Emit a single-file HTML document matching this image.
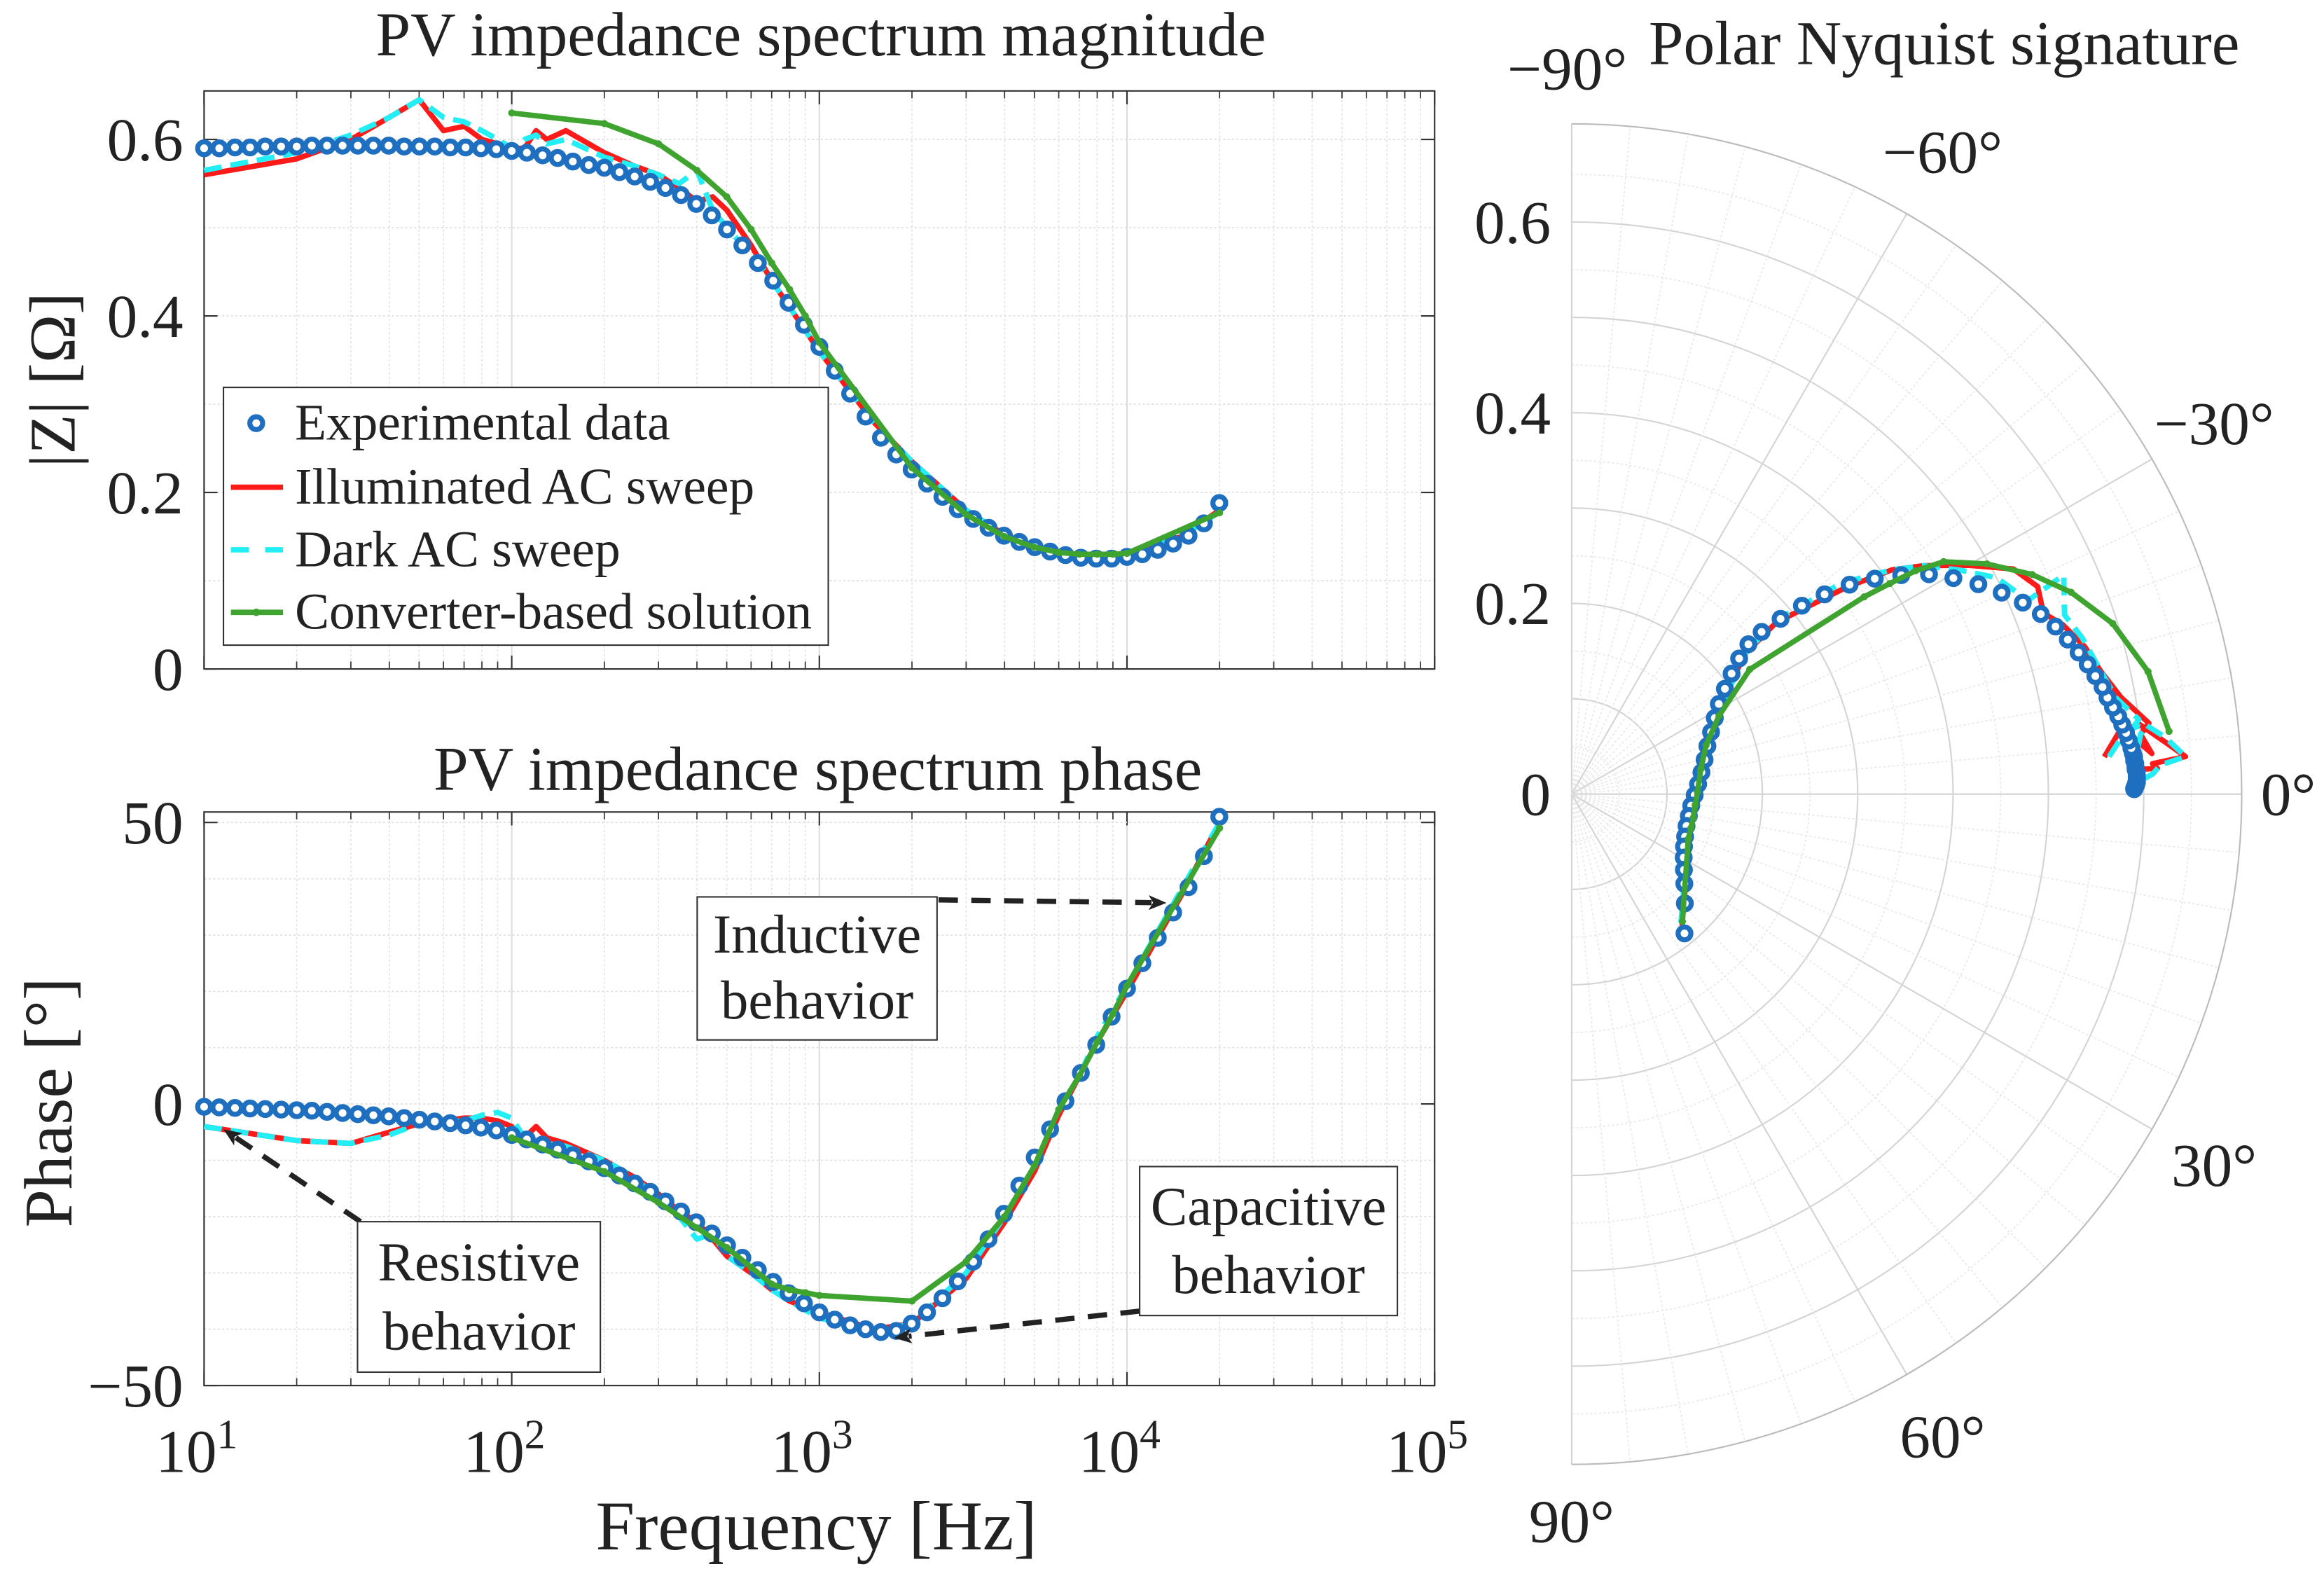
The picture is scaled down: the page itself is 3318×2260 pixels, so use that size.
<!DOCTYPE html>
<html><head><meta charset="utf-8">
<style>
html,body{margin:0;padding:0;background:#fff;}
svg{display:block;}
text{font-family:"Liberation Serif",serif;fill:#222;}
</style></head>
<body>
<svg id="fig" width="3318" height="2260" viewBox="0 0 1560 1062.5" xmlns="http://www.w3.org/2000/svg">
<rect x="0" y="0" width="1560" height="1062.5" fill="#fff"/>
<g id="gTop"></g>
<g id="gBot"></g>
<g id="gPol"></g>
</svg>
<script>
// ---------- data ----------
const expFreq = [10,11.2,12.6,14.1,15.8,17.8,20,22.4,25.1,28.2,31.6,35.5,39.8,44.7,50.1,56.2,63.1,70.8,79.4,89.1,
 100,112,126,141,158,178,200,224,251,282,316,355,398,447,501,562,631,708,794,891,
 1000,1122,1259,1413,1585,1778,1995,2239,2512,2818,3162,3548,3981,4467,5012,5623,6310,7079,7943,8913,
 10000,11220,12589,14125,15849,17783,19953];
const expMag = [.590,.590,.591,.591,.592,.592,.592,.593,.593,.593,.593,.593,.593,.592,.592,.592,.591,.591,.590,.589,
 .587,.585,.582,.579,.575,.571,.568,.563,.558,.552,.545,.537,.527,.514,.498,.480,.460,.440,.415,.390,
 .365,.338,.312,.286,.262,.243,.226,.210,.195,.181,.170,.160,.151,.144,.138,.133,.129,.126,.125,.125,
 .127,.130,.135,.142,.151,.165,.188];
const expPhase = [-0.5,-0.6,-0.7,-0.8,-0.9,-1.0,-1.1,-1.2,-1.4,-1.6,-1.8,-2.0,-2.2,-2.5,-2.8,-3.1,-3.4,-3.8,-4.2,-4.7,
 -5.5,-6.3,-7.2,-8.1,-9.1,-10.2,-11.4,-12.7,-14.1,-15.6,-17.3,-19.1,-21.0,-23.0,-25.1,-27.3,-29.5,-31.6,-33.6,-35.4,
 -37.0,-38.3,-39.3,-40.0,-40.5,-40.3,-39.0,-37.0,-34.5,-31.5,-28.0,-24.0,-19.5,-14.5,-9.5,-4.5,0.5,5.5,10.5,15.5,
 20.5,25,29.5,34,38.5,44,51];
const sweepFreq = [10,20,30,40,50,60,70,80,90,100,110,120,130,150,200,250,300,350,400,450,500,600,700,800,1000,1500,2000,3000,4000,5000,6000,7000,8000,10000,15000,20000];
const illumMag = [.56,.578,.60,.625,.645,.61,.615,.60,.595,.59,.59,.61,.60,.61,.585,.57,.56,.545,.53,.535,.52,.48,.44,.41,.36,.28,.235,.18,.152,.138,.13,.127,.126,.128,.15,.18];
const illumPhase = [-4,-6.5,-7,-5,-3.5,-3,-2.5,-2.5,-3,-4,-6,-4,-6,-7,-10,-13,-16,-19,-21,-24,-27,-30,-33,-35,-37,-40,-39,-31,-21,-12,-2,5,11,20,37,50];
const darkMag = [.565,.585,.605,.625,.645,.625,.62,.61,.60,.59,.60,.605,.595,.60,.58,.57,.56,.55,.565,.52,.50,.47,.44,.41,.36,.28,.235,.18,.152,.138,.13,.127,.126,.128,.15,.178];
const darkPhase = [-4,-6.5,-7,-5.5,-3.5,-3,-3,-2,-1.5,-2.5,-6,-6.5,-7,-7.5,-10,-13,-17,-20,-24,-23,-27,-30,-33,-35,-38,-40.5,-39,-30,-20,-11,-1,5,12,21,38,50];
const convFreq = [100,200,300,400,500,600,700,800,900,1000,2000,3000,4000,5000,6000,7000,8000,9000,10000,20000];
const convMag = [.630,.618,.595,.565,.535,.498,.46,.43,.40,.37,.228,.175,.15,.138,.132,.13,.13,.13,.131,.177];
const convPhase = [-6,-12,-17.5,-22,-25.5,-29,-32,-33,-33.5,-34,-35,-28,-20,-11,-1,5,11,16,21,49];
const magTicks = [0,0.2,0.4,0.6];
const magTickLabels = ["0","0.2","0.4","0.6"];
const phaseTicks = [-50,0,50];
const phaseTickLabels = ["\u221250","0","50"];
const decadeExps = [1,2,3,4,5];
const polarRTicks = [0.2,0.4,0.6];
const polarRTickLabels = ["0.2","0.4","0.6"];
const polarAngTicks = [-90,-60,-30,0,30,60,90];

// ---------- helpers ----------
const NS="http://www.w3.org/2000/svg";
function mk(parent,tag,attrs,txt){const e=document.createElementNS(NS,tag);for(const k in attrs)e.setAttribute(k,attrs[k]);if(txt!==undefined)e.textContent=txt;parent.appendChild(e);return e;}
const C={blue:"#1f6fc0",red:"#ff1a1a",cyan:"#22eef5",green:"#3fa32f"};
const FT=41;

const XL=137,XR=963;
function xs(f){return XL+(XR-XL)*(Math.log10(f)-1)/4;}
const T={top:61,bot:449,min:0,max:0.655};
function ym(v){return T.bot-(v-T.min)/(T.max-T.min)*(T.bot-T.top);}
const B={top:545,bot:930};
function yp(v){return 741-v*(930-741)/50;}

function gridAndBox(g,top,bot,yGrid,yfn,name){
  for(let d=1;d<5;d++){for(let m=2;m<10;m++){const x=xs(m*Math.pow(10,d));
    const l=mk(g,"line",{x1:x,x2:x,y1:top,y2:bot,stroke:"#e4e4e4","stroke-width":0.8,"stroke-dasharray":"1.5 1.5"});
    
    
    mk(g,"line",{x1:x,x2:x,y1:bot,y2:bot-5,stroke:"#333","stroke-width":0.8});
    mk(g,"line",{x1:x,x2:x,y1:top,y2:top+5,stroke:"#333","stroke-width":0.8});}}
  decadeExps.forEach(e=>{const x=xs(Math.pow(10,e));
    const l=mk(g,"line",{x1:x,x2:x,y1:top,y2:bot,stroke:"#dcdcdc","stroke-width":1});
    
    
    mk(g,"line",{x1:x,x2:x,y1:bot,y2:bot-9,stroke:"#333","stroke-width":1});
    mk(g,"line",{x1:x,x2:x,y1:top,y2:top+9,stroke:"#333","stroke-width":1});});
  yGrid.forEach(v=>{const y=yfn(v);
    const l=mk(g,"line",{x1:XL,x2:XR,y1:y,y2:y,stroke:"#e2e2e2","stroke-width":0.9,"stroke-dasharray":"1.5 1.5"});
    
    });
  const r=mk(g,"rect",{x:XL,y:top,width:XR-XL,height:bot-top,fill:"none",stroke:"#333","stroke-width":1});
  
  
}
function poly(g,pts,col,w,dash,name){const a={points:pts.map(p=>p[0].toFixed(2)+","+p[1].toFixed(2)).join(" "),fill:"none",stroke:col,"stroke-width":w,"stroke-linejoin":"round"};if(dash)a["stroke-dasharray"]=dash;const p=mk(g,"polyline",a);
  
  return p;}
function dots(g,pts,name){pts.forEach(p=>{const c=mk(g,"circle",{cx:p[0],cy:p[1],r:4.3,fill:"#fff",stroke:C.blue,"stroke-width":3.4});
  
  });}
function gmarks(g,pts,name){pts.forEach(p=>{const c=mk(g,"circle",{cx:p[0],cy:p[1],r:2.4,fill:C.green});
  
  });}

// ---------- magnitude plot ----------
const gT=document.getElementById("gTop");
const magGrid=[];for(let v=0.1;v<0.65;v+=0.1)magGrid.push(+v.toFixed(2));
gridAndBox(gT,T.top,T.bot,magGrid,ym,"magnitude-axes-box");
magTicks.forEach((v,i)=>{const y=ym(v);
  mk(gT,"line",{x1:XL,x2:XL+9,y1:y,y2:y,stroke:"#333","stroke-width":1});
  mk(gT,"line",{x1:XR,x2:XR-9,y1:y,y2:y,stroke:"#333","stroke-width":1});
  const t=mk(gT,"text",{x:123,y:y+14,"text-anchor":"end","font-size":FT},magTickLabels[i]);
  
  });
poly(gT,sweepFreq.map((f,i)=>[xs(f),ym(illumMag[i])]),C.red,3.6,null,"illuminated-magnitude-line");
poly(gT,sweepFreq.map((f,i)=>[xs(f),ym(darkMag[i])]),C.cyan,3.6,"12 6","dark-magnitude-line");
dots(gT,expFreq.map((f,i)=>[xs(f),ym(expMag[i])]),"experimental-magnitude-point");
poly(gT,convFreq.map((f,i)=>[xs(f),ym(convMag[i])]),C.green,3.6,null,"converter-magnitude-line");
gmarks(gT,convFreq.map((f,i)=>[xs(f),ym(convMag[i])]),"converter-magnitude-marker");
let t;
t=mk(gT,"text",{x:551,y:37,"text-anchor":"middle","font-size":42},"PV impedance spectrum magnitude");


t=mk(gT,"text",{x:0,y:0,"text-anchor":"middle","font-size":44,transform:"translate(50,255) rotate(-90)"},"|Z| [\u03A9]");


const lg=mk(gT,"g",{});


mk(lg,"rect",{x:150,y:260,width:406,height:173,fill:"#fff",stroke:"#333","stroke-width":1});
const legItems=[["Experimental data",284],["Illuminated AC sweep",327],["Dark AC sweep",369],["Converter-based solution",411]];
legItems.forEach((it,i)=>{const y=it[1];
  if(i===0)mk(lg,"circle",{cx:172,cy:y,r:4.3,fill:"#fff",stroke:C.blue,"stroke-width":3.4});
  if(i===1)mk(lg,"line",{x1:155,x2:190,y1:y,y2:y,stroke:C.red,"stroke-width":3.6});
  if(i===2)mk(lg,"line",{x1:155,x2:190,y1:y,y2:y,stroke:C.cyan,"stroke-width":3.6,"stroke-dasharray":"12 11"});
  if(i===3){mk(lg,"line",{x1:155,x2:190,y1:y,y2:y,stroke:C.green,"stroke-width":3.6});mk(lg,"circle",{cx:172,cy:y,r:2.5,fill:C.green});}
  const tx=mk(lg,"text",{x:198,y:y+11,"font-size":34.5},it[0]);
  
  });

// ---------- phase plot ----------
const gB=document.getElementById("gBot");
const phGrid=[];for(let v=-40;v<=50;v+=10)phGrid.push(v);
gridAndBox(gB,B.top,B.bot,phGrid,yp,"phase-axes-box");
phaseTicks.forEach((v,i)=>{const y=yp(v);
  mk(gB,"line",{x1:XL,x2:XL+9,y1:y,y2:y,stroke:"#333","stroke-width":1});
  mk(gB,"line",{x1:XR,x2:XR-9,y1:y,y2:y,stroke:"#333","stroke-width":1});
  const tt=mk(gB,"text",{x:123,y:y+14,"text-anchor":"end","font-size":FT},phaseTickLabels[i]);
  
  });
decadeExps.forEach(e=>{const x=xs(Math.pow(10,e));
  const tt=mk(gB,"text",{x:x-5,y:988,"text-anchor":"middle","font-size":FT},"10");
  mk(tt,"tspan",{dy:-16,"font-size":28},String(e));
  
  });
poly(gB,sweepFreq.map((f,i)=>[xs(f),yp(illumPhase[i])]),C.red,3.6,null,"illuminated-phase-line");
poly(gB,sweepFreq.map((f,i)=>[xs(f),yp(darkPhase[i])]),C.cyan,3.6,"12 6","dark-phase-line");
dots(gB,expFreq.map((f,i)=>[xs(f),yp(expPhase[i])]),"experimental-phase-point");
poly(gB,convFreq.map((f,i)=>[xs(f),yp(convPhase[i])]),C.green,3.6,null,"converter-phase-line");
gmarks(gB,convFreq.map((f,i)=>[xs(f),yp(convPhase[i])]),"converter-phase-marker");
t=mk(gB,"text",{x:549,y:530,"text-anchor":"middle","font-size":42},"PV impedance spectrum phase");


t=mk(gB,"text",{x:0,y:0,"text-anchor":"middle","font-size":46,transform:"translate(48,740) rotate(-90)"},"Phase [\u00B0]");


t=mk(gB,"text",{x:548,y:1040,"text-anchor":"middle","font-size":47},"Frequency [Hz]");


function arrow(g,x1,y1,x2,y2,name){const a=Math.atan2(y2-y1,x2-x1);
  const l=mk(g,"line",{x1:x1,y1:y1,x2:x2-10*Math.cos(a),y2:y2-10*Math.sin(a),stroke:"#222","stroke-width":3.5,"stroke-dasharray":"13 9"});
  
  
  const hx=x2-12*Math.cos(a),hy=y2-12*Math.sin(a),px=-Math.sin(a)*5,py=Math.cos(a)*5;
  mk(g,"polygon",{points:`${x2},${y2} ${hx+px},${hy+py} ${hx+3*Math.cos(a)},${hy+3*Math.sin(a)} ${hx-px},${hy-py}`,fill:"#222"});}
function abox(g,x,y,w,h,l1,l2,name){const gg=mk(g,"g",{});
  
  
  mk(gg,"rect",{x:x,y:y,width:w,height:h,fill:"#fff",stroke:"#333","stroke-width":1});
  mk(gg,"text",{x:x+w/2,y:y+h*0.39,"text-anchor":"middle","font-size":37},l1);
  mk(gg,"text",{x:x+w/2,y:y+h*0.85,"text-anchor":"middle","font-size":37},l2);}
arrow(gB,630,604,783,606,"inductive-arrow");
abox(gB,468,602,161,96,"Inductive","behavior","inductive-annotation");
arrow(gB,242,820,150,758,"resistive-arrow");
abox(gB,240,820,163,101,"Resistive","behavior","resistive-annotation");
arrow(gB,765,880,600,898,"capacitive-arrow");
abox(gB,765,783,173,100,"Capacitive","behavior","capacitive-annotation");

// ---------- polar ----------
const gP=document.getElementById("gPol");
const PC={x:1055,y:533,k:640,rmax:0.703};
function pxy(r,deg){const a=deg*Math.PI/180;return [PC.x+r*PC.k*Math.cos(a),PC.y+r*PC.k*Math.sin(a)];}
for(let r=0.05;r<PC.rmax-0.01;r+=0.05){const R=r*PC.k;const major=Math.abs(r*10-Math.round(r*10))<1e-6;
  const c=mk(gP,"path",{d:`M${PC.x},${PC.y-R} A${R},${R} 0 0 1 ${PC.x},${PC.y+R}`,fill:"none",stroke:major?"#d4d4d4":"#e8e8e8","stroke-width":major?1:0.8,"stroke-dasharray":major?"":"1.5 1.5"});
  
  }
for(let d=-90;d<=90;d+=5){const p=pxy(PC.rmax,d);const major=d%30===0;
  const l=mk(gP,"line",{x1:PC.x,y1:PC.y,x2:p[0],y2:p[1],stroke:major?"#d4d4d4":"#e8e8e8","stroke-width":major?1:0.8,"stroke-dasharray":major?"":"1.5 1.5"});
  
  }
{const R=PC.rmax*PC.k;const o=mk(gP,"path",{d:`M${PC.x},${PC.y-R} A${R},${R} 0 0 1 ${PC.x},${PC.y+R}`,fill:"none",stroke:"#bbb","stroke-width":1});
  
  }
polarRTicks.forEach((r,i)=>{const tt=mk(gP,"text",{x:1041,y:PC.y-r*PC.k+14,"text-anchor":"end","font-size":FT},polarRTickLabels[i]);
  
  });
t=mk(gP,"text",{x:1041,y:547,"text-anchor":"end","font-size":FT},"0");


polarAngTicks.forEach(d=>{const p=pxy(PC.rmax+0.075,d);let x=p[0],y=p[1]+14;
  if(d===-90){x=1052;y=60;} if(d===90){x=1055;y=1035;} if(d===0){x=1536;}
  const lab=(d<0?"\u2212":"")+Math.abs(d)+"\u00B0";
  const tt=mk(gP,"text",{x:x,y:y,"text-anchor":"middle","font-size":FT},lab);
  
  });
poly(gP,sweepFreq.map((f,i)=>pxy(illumMag[i],illumPhase[i])),C.red,3.6,null,"illuminated-polar-line");
poly(gP,sweepFreq.map((f,i)=>pxy(darkMag[i],darkPhase[i])),C.cyan,3.6,"12 6","dark-polar-line");
dots(gP,expFreq.map((f,i)=>pxy(expMag[i],expPhase[i])),"experimental-polar-point");
poly(gP,convFreq.map((f,i)=>pxy(convMag[i],convPhase[i])),C.green,3.6,null,"converter-polar-line");
gmarks(gP,convFreq.map((f,i)=>pxy(convMag[i],convPhase[i])),"converter-polar-marker");
t=mk(gP,"text",{x:1305,y:43,"text-anchor":"middle","font-size":42},"Polar Nyquist signature");


</script>
</body></html>
